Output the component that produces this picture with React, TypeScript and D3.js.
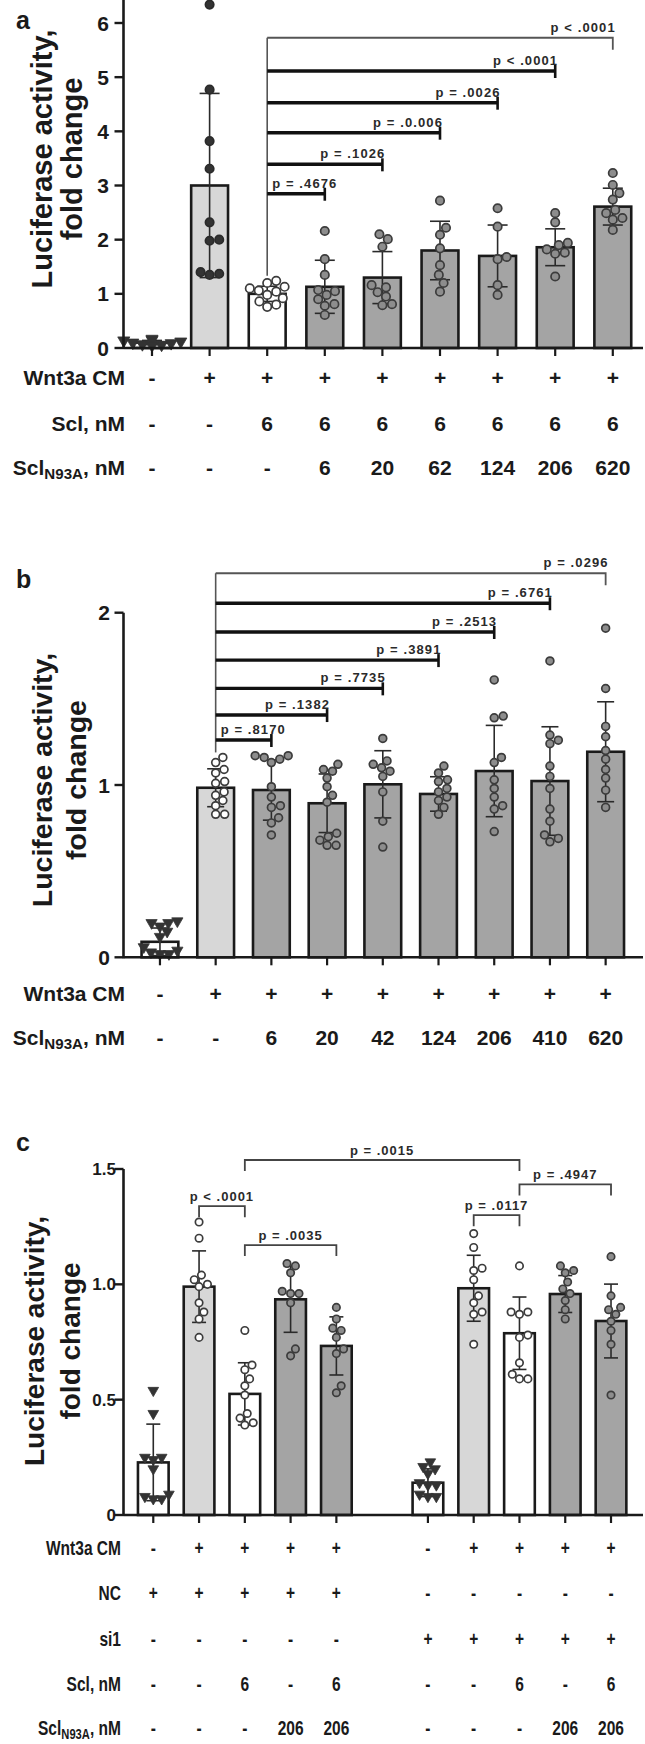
import React from 'react';
import * as d3 from 'd3';

const FONT = '"Liberation Sans", Arial, Helvetica, sans-serif';
const INK = '#1a1a1a';

type Fill = 'white' | 'light' | 'dark';
type PStyle = 'tri' | 'dark' | 'open' | 'gray';

// ---------------- Panel a ----------------
const A_CATEGORIES = ['ctrl', 'wnt', 'scl', 'n6', 'n20', 'n62', 'n124', 'n206', 'n620'];
const A_MEANS = [0.1, 3.0, 1.0, 1.13, 1.3, 1.8, 1.7, 1.86, 2.61];
const A_SD = [0.04, 1.7, 0.14, 0.49, 0.48, 0.54, 0.57, 0.34, 0.34];
const A_POINTS = [
  [0.17, 0.15, 0.14, 0.12, 0.1, 0.09, 0.07, 0.06, 0.05],
  [6.34, 4.77, 3.82, 3.31, 2.32, 2.0, 1.98, 1.4, 1.37, 1.35],
  [1.24, 1.2, 1.13, 1.1, 1.06, 1.04, 0.98, 0.92, 0.86, 0.8, 0.76],
  [2.16, 1.64, 1.35, 1.07, 1.05, 0.98, 0.9, 0.81, 0.78, 0.61],
  [2.1, 2.01, 1.87, 1.16, 1.12, 1.03, 0.95, 0.81, 0.79],
  [2.72, 2.22, 2.09, 1.84, 1.53, 1.35, 1.2, 1.04],
  [2.58, 2.24, 1.68, 1.64, 1.16, 0.98],
  [2.49, 2.32, 1.94, 1.9, 1.82, 1.76, 1.74, 1.32],
  [3.23, 3.01, 2.86, 2.74, 2.55, 2.49, 2.4, 2.37, 2.18],
];
const A_FILLS: Fill[] = ['white', 'light', 'white', 'dark', 'dark', 'dark', 'dark', 'dark', 'dark'];
const A_PSTYLES: PStyle[] = ['tri', 'dark', 'open', 'gray', 'gray', 'gray', 'gray', 'gray', 'gray'];
const A_TICKS = [0, 1, 2, 3, 4, 5, 6];
const A_ROW_WNT = ['-', '+', '+', '+', '+', '+', '+', '+', '+'];
const A_ROW_SCL = ['-', '-', '6', '6', '6', '6', '6', '6', '6'];
const A_ROW_N93A = ['-', '-', '-', '6', '20', '62', '124', '206', '620'];
const A_BRACKETS = [
  { from: 2, to: 8, level: 5.728, label: 'p < .0001', thin: true },
  { from: 2, to: 7, level: 5.114, label: 'p < .0001' },
  { from: 2, to: 6, level: 4.529, label: 'p = .0026' },
  { from: 2, to: 5, level: 3.975, label: 'p = .0.006' },
  { from: 2, to: 4, level: 3.391, label: 'p = .1026' },
  { from: 2, to: 3, level: 2.848, label: 'p = .4676' },
];

// ---------------- Panel b ----------------
const B_CATEGORIES = ['ctrl', 'wnt', 'n6', 'n20', 'n42', 'n124', 'n206', 'n410', 'n620'];
const B_MEANS = [0.09, 0.984, 0.971, 0.894, 1.004, 0.948, 1.081, 1.023, 1.193];
const B_SD = [0.08, 0.11, 0.175, 0.17, 0.195, 0.1, 0.265, 0.315, 0.29];
const B_POINTS = [
  [0.21, 0.2, 0.2, 0.18, 0.15, 0.12, 0.06, 0.04, 0.03, 0.02, 0.02],
  [1.16, 1.13, 1.09, 1.07, 1.02, 1.01, 0.96, 0.94, 0.91, 0.88, 0.83, 0.83],
  [1.17, 1.17, 1.16, 1.15, 1.13, 0.99, 0.93, 0.88, 0.87, 0.81, 0.78, 0.71],
  [1.12, 1.09, 1.08, 1.04, 0.99, 0.94, 0.9, 0.72, 0.7, 0.68, 0.65, 0.65],
  [1.27, 1.14, 1.12, 1.1, 1.08, 1.05, 0.96, 0.79, 0.64],
  [1.11, 1.07, 1.03, 1.02, 0.98, 0.96, 0.93, 0.91, 0.87, 0.83],
  [1.61, 1.4, 1.39, 1.16, 1.13, 1.03, 0.98, 0.93, 0.88, 0.86, 0.73],
  [1.72, 1.29, 1.26, 1.24, 1.11, 1.05, 0.98, 0.86, 0.79, 0.71, 0.69, 0.67],
  [1.91, 1.56, 1.34, 1.28, 1.2, 1.15, 1.09, 1.04, 0.97, 0.87],
];
const B_FILLS: Fill[] = ['white', 'light', 'dark', 'dark', 'dark', 'dark', 'dark', 'dark', 'dark'];
const B_PSTYLES: PStyle[] = ['tri', 'open', 'gray', 'gray', 'gray', 'gray', 'gray', 'gray', 'gray'];
const B_TICKS = [0, 1, 2];
const B_ROW_WNT = ['-', '+', '+', '+', '+', '+', '+', '+', '+'];
const B_ROW_N93A = ['-', '-', '6', '20', '42', '124', '206', '410', '620'];
const B_BRACKETS = [
  { from: 1, to: 8, level: 2.229, label: 'p = .0296', thin: true },
  { from: 1, to: 7, level: 2.055, label: 'p = .6761' },
  { from: 1, to: 6, level: 1.888, label: 'p = .2513' },
  { from: 1, to: 5, level: 1.725, label: 'p = .3891' },
  { from: 1, to: 4, level: 1.561, label: 'p = .7735' },
  { from: 1, to: 3, level: 1.406, label: 'p = .1382' },
  { from: 1, to: 2, level: 1.261, label: 'p = .8170' },
];

// ---------------- Panel c ----------------
const C_GROUPS = ['NC', 'si1'];
const C_CONDITIONS = ['ctrl', 'wnt', 'scl', 'n206', 'scl+n206'];
const C_MEANS = [0.228, 0.99, 0.525, 0.935, 0.733, 0.14, 0.983, 0.788, 0.958, 0.841];
const C_SD = [0.166, 0.155, 0.135, 0.143, 0.126, 0.06, 0.143, 0.157, 0.08, 0.16];
const C_POINTS = [
  [0.54, 0.44, 0.25, 0.25, 0.24, 0.2, 0.09, 0.08, 0.07, 0.07],
  [1.27, 1.2, 1.04, 1.02, 1.0, 0.99, 0.92, 0.88, 0.85, 0.77],
  [0.8, 0.65, 0.63, 0.59, 0.56, 0.52, 0.44, 0.42, 0.4, 0.39],
  [1.09, 1.08, 1.05, 0.97, 0.96, 0.96, 0.92, 0.72, 0.69],
  [0.9, 0.85, 0.81, 0.8, 0.77, 0.72, 0.7, 0.56, 0.53],
  [0.23, 0.21, 0.2, 0.18, 0.14, 0.13, 0.13, 0.09, 0.08, 0.08],
  [1.22, 1.16, 1.07, 1.06, 1.02, 0.95, 0.92, 0.88, 0.87, 0.74],
  [1.08, 0.88, 0.88, 0.87, 0.78, 0.77, 0.66, 0.61, 0.59, 0.59],
  [1.08, 1.06, 1.05, 1.01, 0.98, 0.96, 0.93, 0.89, 0.85],
  [1.12, 0.95, 0.9, 0.89, 0.87, 0.84, 0.8, 0.74, 0.52],
];
const C_FILLS: Fill[] = ['white', 'light', 'white', 'dark', 'dark', 'white', 'light', 'white', 'dark', 'dark'];
const C_PSTYLES: PStyle[] = ['tri', 'open', 'open', 'gray', 'gray', 'tri', 'open', 'open', 'gray', 'gray'];
const C_TICKS = [0, 0.5, 1.0, 1.5];
const C_ROW_WNT = ['-', '+', '+', '+', '+', '-', '+', '+', '+', '+'];
const C_ROW_NC = ['+', '+', '+', '+', '+', '-', '-', '-', '-', '-'];
const C_ROW_SI1 = ['-', '-', '-', '-', '-', '+', '+', '+', '+', '+'];
const C_ROW_SCL = ['-', '-', '6', '-', '6', '-', '-', '6', '-', '6'];
const C_ROW_N93A = ['-', '-', '-', '206', '206', '-', '-', '-', '206', '206'];
const C_BRACKETS = [
  { from: 2, to: 7, level: 1.539, label: 'p = .0015' },
  { from: 7, to: 9, level: 1.433, label: 'p = .4947' },
  { from: 1, to: 2, level: 1.339, label: 'p < .0001' },
  { from: 6, to: 7, level: 1.3, label: 'p = .0117' },
  { from: 2, to: 4, level: 1.17, label: 'p = .0035' },
];

// ---------------- helpers ----------------
const FILL_COLOR: Record<Fill, string> = { white: '#ffffff', light: '#d7d7d7', dark: '#a4a4a4' };

function swarm(ys: number[], r: number): number[] {
  const order = ys.map((_, i) => i).sort((a, b) => ys[b] - ys[a]);
  const placed: { x: number; y: number }[] = [];
  const out = new Array(ys.length).fill(0);
  const minD = 2 * r + 0.8;
  const cands: number[] = [0];
  for (let k = 1; k < 60; k++) cands.push(k * 0.6, -k * 0.6);
  for (const i of order) {
    const y = ys[i];
    let chosen = 0;
    for (const c of cands) {
      const ok = placed.every((p) => (p.x - c) ** 2 + (p.y - y) ** 2 >= minD * minD);
      if (ok) { chosen = c; break; }
    }
    placed.push({ x: chosen, y });
    out[i] = chosen;
  }
  return out;
}

interface Bracket { from: number; to: number; level: number; label: string; thin?: boolean }
interface Row { label: React.ReactNode; values: string[]; y: number }

interface PanelProps {
  letter: string; letterY: number;
  domain: string[]; barKeys: string[];
  means: number[]; sds: number[]; points: number[][];
  fills: Fill[]; pstyles: PStyle[];
  xRange: [number, number]; padding: number;
  yDomain: [number, number]; yRange: [number, number];
  ticks: number[]; tickFmt: (v: number) => string; tickFont: number; tickRight: number;
  axisTop: number;
  brackets: Bracket[]; bracketMode: 'fan' | 'bridge';
  rows: Row[]; rowFont: number; rowLabelX: number; rowScale: number;
  yLabelX: [number, number]; yLabelY: number; yLabelFont: number;
  r: number; capW: number;
}

const AXIS_X = 123.5;
const AXIS_END = 643;

function Panel(p: PanelProps) {
  const x = d3.scaleBand<string>().domain(p.domain).range(p.xRange)
    .paddingInner(p.padding).paddingOuter(p.padding / 2);
  const y = d3.scaleLinear().domain(p.yDomain).range(p.yRange);
  const bw = x.bandwidth();
  const cx = (i: number) => (x(p.barKeys[i]) as number) + bw / 2;
  const y0 = y(0);
  const tri = d3.symbol().type(d3.symbolTriangle).size(p.r * p.r * 3.6)();

  const labelW = (s: string) => s.length * 7.3;

  return (
    <g>
      <text x={16} y={p.letterY} fontFamily={FONT} fontWeight="bold" fontSize={25} fill={INK}>{p.letter}</text>
      {/* y label */}
      <text transform={`translate(${p.yLabelX[0]},${p.yLabelY}) rotate(-90)`} textAnchor="middle"
        dominantBaseline="central" fontFamily={FONT} fontWeight="bold" fontSize={p.yLabelFont} fill={INK}>Luciferase activity,</text>
      <text transform={`translate(${p.yLabelX[1]},${p.yLabelY}) rotate(-90)`} textAnchor="middle"
        dominantBaseline="central" fontFamily={FONT} fontWeight="bold" fontSize={p.yLabelFont} fill={INK}>fold change</text>

      {/* bars */}
      {p.means.map((m, i) => (
        <rect key={'b' + i} x={cx(i) - bw / 2} y={y(m)} width={bw} height={y0 - y(m)}
          fill={FILL_COLOR[p.fills[i]]} stroke={INK} strokeWidth={2.6} />
      ))}
      {/* error bars */}
      {p.means.map((m, i) => {
        const hi = y(m + p.sds[i]);
        const lo = y(Math.max(0, m - p.sds[i]));
        return (
          <g key={'e' + i} stroke="#2a2a2a" strokeWidth={1.6}>
            <line x1={cx(i)} x2={cx(i)} y1={hi} y2={lo} />
            <line x1={cx(i) - p.capW / 2} x2={cx(i) + p.capW / 2} y1={hi} y2={hi} />
            <line x1={cx(i) - p.capW / 2} x2={cx(i) + p.capW / 2} y1={lo} y2={lo} />
          </g>
        );
      })}
      {/* points */}
      {p.points.map((pts, i) => {
        const ys = pts.map((v) => y(v));
        const offs = swarm(ys, p.r);
        const st = p.pstyles[i];
        return (
          <g key={'p' + i}>
            {ys.map((yy, j) => {
              const px = cx(i) + offs[j];
              if (st === 'tri') {
                return <path key={j} d={tri as string} transform={`translate(${px},${yy}) rotate(180)`} fill="#333" stroke="#333" strokeWidth={0.8} />;
              }
              const fill = st === 'open' ? '#ffffff' : st === 'gray' ? '#8d8d8d' : '#333333';
              const stroke = st === 'dark' ? '#2a2a2a' : '#3c3c3c';
              return <circle key={j} cx={px} cy={yy} r={p.r} fill={fill} stroke={stroke} strokeWidth={1.7} />;
            })}
          </g>
        );
      })}

      {/* y axis */}
      <line x1={AXIS_X} x2={AXIS_X} y1={p.axisTop} y2={y0 + 1} stroke={INK} strokeWidth={2.6} />
      {p.ticks.map((t) => (
        <g key={'t' + t}>
          <line x1={AXIS_X - 9} x2={AXIS_X} y1={y(t)} y2={y(t)} stroke={INK} strokeWidth={2.4} />
          <text x={p.tickRight} y={y(t) + p.tickFont * 0.36} textAnchor="end" fontFamily={FONT}
            fontWeight="bold" fontSize={p.tickFont} fill={INK}>{p.tickFmt(t)}</text>
        </g>
      ))}
      {/* x axis */}
      <line x1={AXIS_X} x2={AXIS_END} y1={y0} y2={y0} stroke={INK} strokeWidth={2.6} />
      {p.means.map((_, i) => (
        <line key={'xt' + i} x1={cx(i)} x2={cx(i)} y1={y0} y2={y0 + 8} stroke={INK} strokeWidth={2.2} />
      ))}

      {/* brackets */}
      {p.bracketMode === 'fan' && (() => {
        const src = p.brackets[0].from;
        const topLv = d3.max(p.brackets, (b) => b.level) as number;
        const srcMax = Math.max(d3.max(p.points[src]) as number, p.means[src] + p.sds[src]);
        const x0 = cx(src);
        return (
          <g>
            <line x1={x0} x2={x0} y1={y(topLv)} y2={y(srcMax) - 5} stroke="#555" strokeWidth={1.6} />
            {p.brackets.map((b, k) => {
              const x1 = cx(b.to);
              const yy = y(b.level);
              const w = labelW(b.label);
              const fits = x1 - x0 > w + 6;
              return (
                <g key={'br' + k}>
                  {b.thin ? (
                    <path d={`M${x0},${yy}H${x1}V${yy + 12}`} fill="none" stroke="#555" strokeWidth={1.8} />
                  ) : (
                    <g>
                      <line x1={x0} x2={x1} y1={yy} y2={yy} stroke="#111" strokeWidth={3.4} />
                      <line x1={x1} x2={x1} y1={yy - 6} y2={yy + 7} stroke="#111" strokeWidth={2.6} />
                    </g>
                  )}
                  <text x={fits ? x1 + 3 : x0 + 5} y={yy - 6} textAnchor={fits ? 'end' : 'start'}
                    fontFamily={FONT} fontWeight="bold" fontSize={13} letterSpacing={1.1} fill="#2a2a2a">{b.label}</text>
                </g>
              );
            })}
          </g>
        );
      })()}
      {p.bracketMode === 'bridge' && p.brackets.map((b, k) => {
        const x0 = cx(b.from);
        const x1 = cx(b.to);
        const yy = y(b.level);
        return (
          <g key={'bb' + k}>
            <path d={`M${x0},${yy + 11}V${yy}H${x1}V${yy + 11}`} fill="none" stroke="#444" strokeWidth={1.8} />
            <text x={(x0 + x1) / 2} y={yy - 5} textAnchor="middle" fontFamily={FONT} fontWeight="bold"
              fontSize={13} letterSpacing={1.0} fill="#2a2a2a">{b.label}</text>
          </g>
        );
      })}

      {/* condition rows */}
      {p.rows.map((row, ri) => (
        <g key={'r' + ri}>
          <g transform={`translate(${p.rowLabelX},${row.y + p.rowFont * 0.36}) scale(${p.rowScale},1)`}>
            <text x={0} y={0} textAnchor="end" fontFamily={FONT} fontWeight="bold" fontSize={p.rowFont} fill={INK}>{row.label}</text>
          </g>
          {row.values.map((v, i) => (
            <g key={i} transform={`translate(${cx(i)},${row.y + p.rowFont * 0.36}) scale(${p.rowScale},1)`}>
              <text x={0} y={0} textAnchor="middle" fontFamily={FONT} fontWeight="bold" fontSize={p.rowFont} fill={INK}>{v}</text>
            </g>
          ))}
        </g>
      ))}
    </g>
  );
}

function n93aLabel(font: number) {
  return (
    <>
      Scl<tspan fontSize={font * 0.72} dy={font * 0.22}>N93A</tspan><tspan dy={-font * 0.22}>, nM</tspan>
    </>
  );
}

export default function App() {
  const cDomain: string[] = [];
  const cBarKeys: string[] = [];
  C_GROUPS.forEach((g, gi) => {
    C_CONDITIONS.forEach((c) => { cDomain.push(`${g}-${c}`); cBarKeys.push(`${g}-${c}`); });
    if (gi < C_GROUPS.length - 1) cDomain.push('gap');
  });

  return (
    <svg width={645} height={1744} style={{ position: 'absolute', left: 0, top: 0, background: '#fff' }}>
      <rect width={645} height={1744} fill="#fff" />
      <Panel
        letter="a" letterY={29}
        domain={A_CATEGORIES} barKeys={A_CATEGORIES}
        means={A_MEANS} sds={A_SD} points={A_POINTS} fills={A_FILLS} pstyles={A_PSTYLES}
        xRange={[123.2, 641.6]} padding={0.36}
        yDomain={[0, 6]} yRange={[348, 23]}
        ticks={A_TICKS} tickFmt={(v) => String(v)} tickFont={21} tickRight={109}
        axisTop={0}
        brackets={A_BRACKETS} bracketMode="fan"
        rows={[
          { label: 'Wnt3a CM', values: A_ROW_WNT, y: 377 },
          { label: 'Scl, nM', values: A_ROW_SCL, y: 423 },
          { label: n93aLabel(21), values: A_ROW_N93A, y: 467 },
        ]}
        rowFont={21} rowLabelX={125} rowScale={1}
        yLabelX={[42, 72]} yLabelY={159} yLabelFont={29}
        r={4.2} capW={20}
      />
      <Panel
        letter="b" letterY={588}
        domain={B_CATEGORIES} barKeys={B_CATEGORIES}
        means={B_MEANS} sds={B_SD} points={B_POINTS} fills={B_FILLS} pstyles={B_PSTYLES}
        xRange={[132.1, 633.5]} padding={0.34}
        yDomain={[0, 2]} yRange={[957.3, 612.7]}
        ticks={B_TICKS} tickFmt={(v) => String(v)} tickFont={21} tickRight={110}
        axisTop={612.7}
        brackets={B_BRACKETS} bracketMode="fan"
        rows={[
          { label: 'Wnt3a CM', values: B_ROW_WNT, y: 993 },
          { label: n93aLabel(21), values: B_ROW_N93A, y: 1037 },
        ]}
        rowFont={21} rowLabelX={125} rowScale={1}
        yLabelX={[42, 76]} yLabelY={780} yLabelFont={28.5}
        r={3.9} capW={17}
      />
      <Panel
        letter="c" letterY={1151}
        domain={cDomain} barKeys={cBarKeys}
        means={C_MEANS} sds={C_SD} points={C_POINTS} fills={C_FILLS} pstyles={C_PSTYLES}
        xRange={[130.4, 633.9]} padding={0.33}
        yDomain={[0, 1.5]} yRange={[1515, 1169]}
        ticks={C_TICKS} tickFmt={(v) => (v === 0 ? '0' : d3.format('.1f')(v))} tickFont={17} tickRight={116}
        axisTop={1169}
        brackets={C_BRACKETS} bracketMode="bridge"
        rows={[
          { label: 'Wnt3a CM', values: C_ROW_WNT, y: 1547 },
          { label: 'NC', values: C_ROW_NC, y: 1592 },
          { label: 'si1', values: C_ROW_SI1, y: 1638 },
          { label: 'Scl, nM', values: C_ROW_SCL, y: 1683 },
          { label: n93aLabel(21), values: C_ROW_N93A, y: 1727 },
        ]}
        rowFont={21} rowLabelX={121} rowScale={0.74}
        yLabelX={[34, 70]} yLabelY={1341} yLabelFont={28}
        r={3.7} capW={14}
      />
    </svg>
  );
}
